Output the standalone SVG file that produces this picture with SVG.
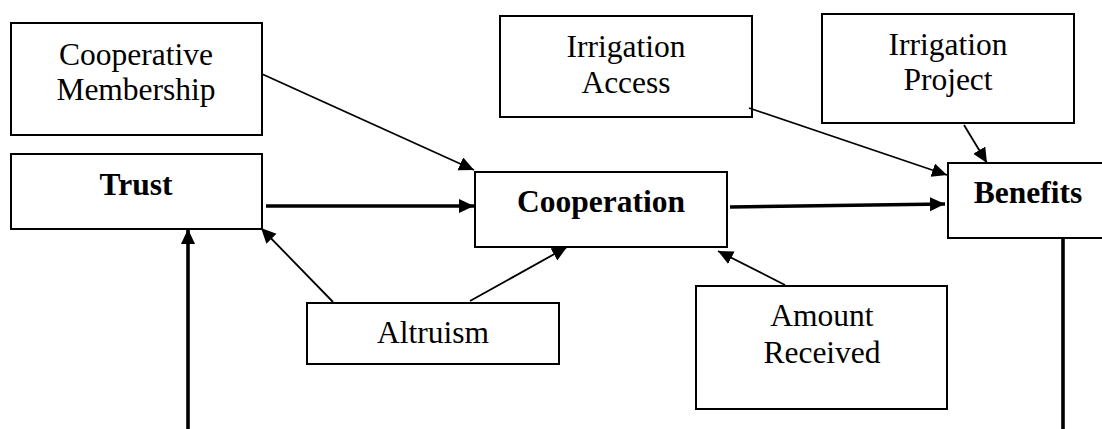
<svg xmlns="http://www.w3.org/2000/svg" width="1102" height="429" viewBox="0 0 1102 429">
<style>
.box{fill:#fff;stroke:#000;stroke-width:2}
.t{font-family:"Liberation Serif","Times New Roman",serif;font-size:31.5px;fill:#000;text-anchor:middle}
.b{font-weight:bold}
.thin{stroke:#000;stroke-width:1.8;fill:none}
.thick{stroke:#000;stroke-width:3.6;fill:none}
</style>
<defs>
<marker id="ah" markerUnits="userSpaceOnUse" markerWidth="16" markerHeight="16" refX="15" refY="7" orient="auto">
<path d="M0,0 L15,7 L0,14 z" fill="#000"/>
</marker>
</defs>
<rect width="1102" height="429" fill="#fff"/>
<g id="coop-membership">
<rect class="box" x="11" y="23" width="251" height="112"/>
<text class="t" x="136" y="65">Cooperative</text>
<text class="t" x="136" y="100">Membership</text>
</g>
<g id="trust">
<rect class="box" x="11" y="154" width="251" height="75"/>
<text class="t b" x="136" y="195">Trust</text>
</g>
<g id="cooperation">
<rect class="box" x="475" y="172" width="252" height="75"/>
<text class="t b" x="601" y="212">Cooperation</text>
</g>
<g id="irrigation-access">
<rect class="box" x="500" y="16" width="252" height="101"/>
<text class="t" x="626" y="57">Irrigation</text>
<text class="t" x="626" y="93">Access</text>
</g>
<g id="irrigation-project">
<rect class="box" x="822" y="14" width="252" height="109"/>
<text class="t" x="948" y="55">Irrigation</text>
<text class="t" x="948" y="90">Project</text>
</g>
<g id="benefits">
<rect class="box" x="948" y="163" width="170" height="75"/>
<text class="t b" x="1028" y="203">Benefits</text>
</g>
<g id="altruism">
<rect class="box" x="307" y="303" width="252" height="61"/>
<text class="t" x="433" y="343">Altruism</text>
</g>
<g id="amount-received">
<rect class="box" x="696" y="286" width="251" height="123"/>
<text class="t" x="822" y="326">Amount</text>
<text class="t" x="822" y="363">Received</text>
</g>
<g id="connectors">
<line class="thin" x1="262" y1="74" x2="474" y2="170" marker-end="url(#ah)"/>
<line class="thick" x1="266" y1="206" x2="474" y2="206" marker-end="url(#ah)"/>
<line class="thick" x1="188" y1="429" x2="188" y2="229" marker-end="url(#ah)"/>
<line class="thin" x1="333" y1="302" x2="261" y2="228" marker-end="url(#ah)"/>
<line class="thin" x1="470" y1="301" x2="567" y2="247" marker-end="url(#ah)"/>
<line class="thin" x1="785" y1="285" x2="718" y2="251" marker-end="url(#ah)"/>
<line class="thick" x1="730" y1="207" x2="945" y2="204" marker-end="url(#ah)"/>
<line class="thin" x1="749" y1="108" x2="947" y2="175" marker-end="url(#ah)"/>
<line class="thin" x1="964" y1="125" x2="987" y2="163" marker-end="url(#ah)"/>
<line class="thick" x1="1063" y1="238" x2="1063" y2="429"/>
</g>
</svg>
